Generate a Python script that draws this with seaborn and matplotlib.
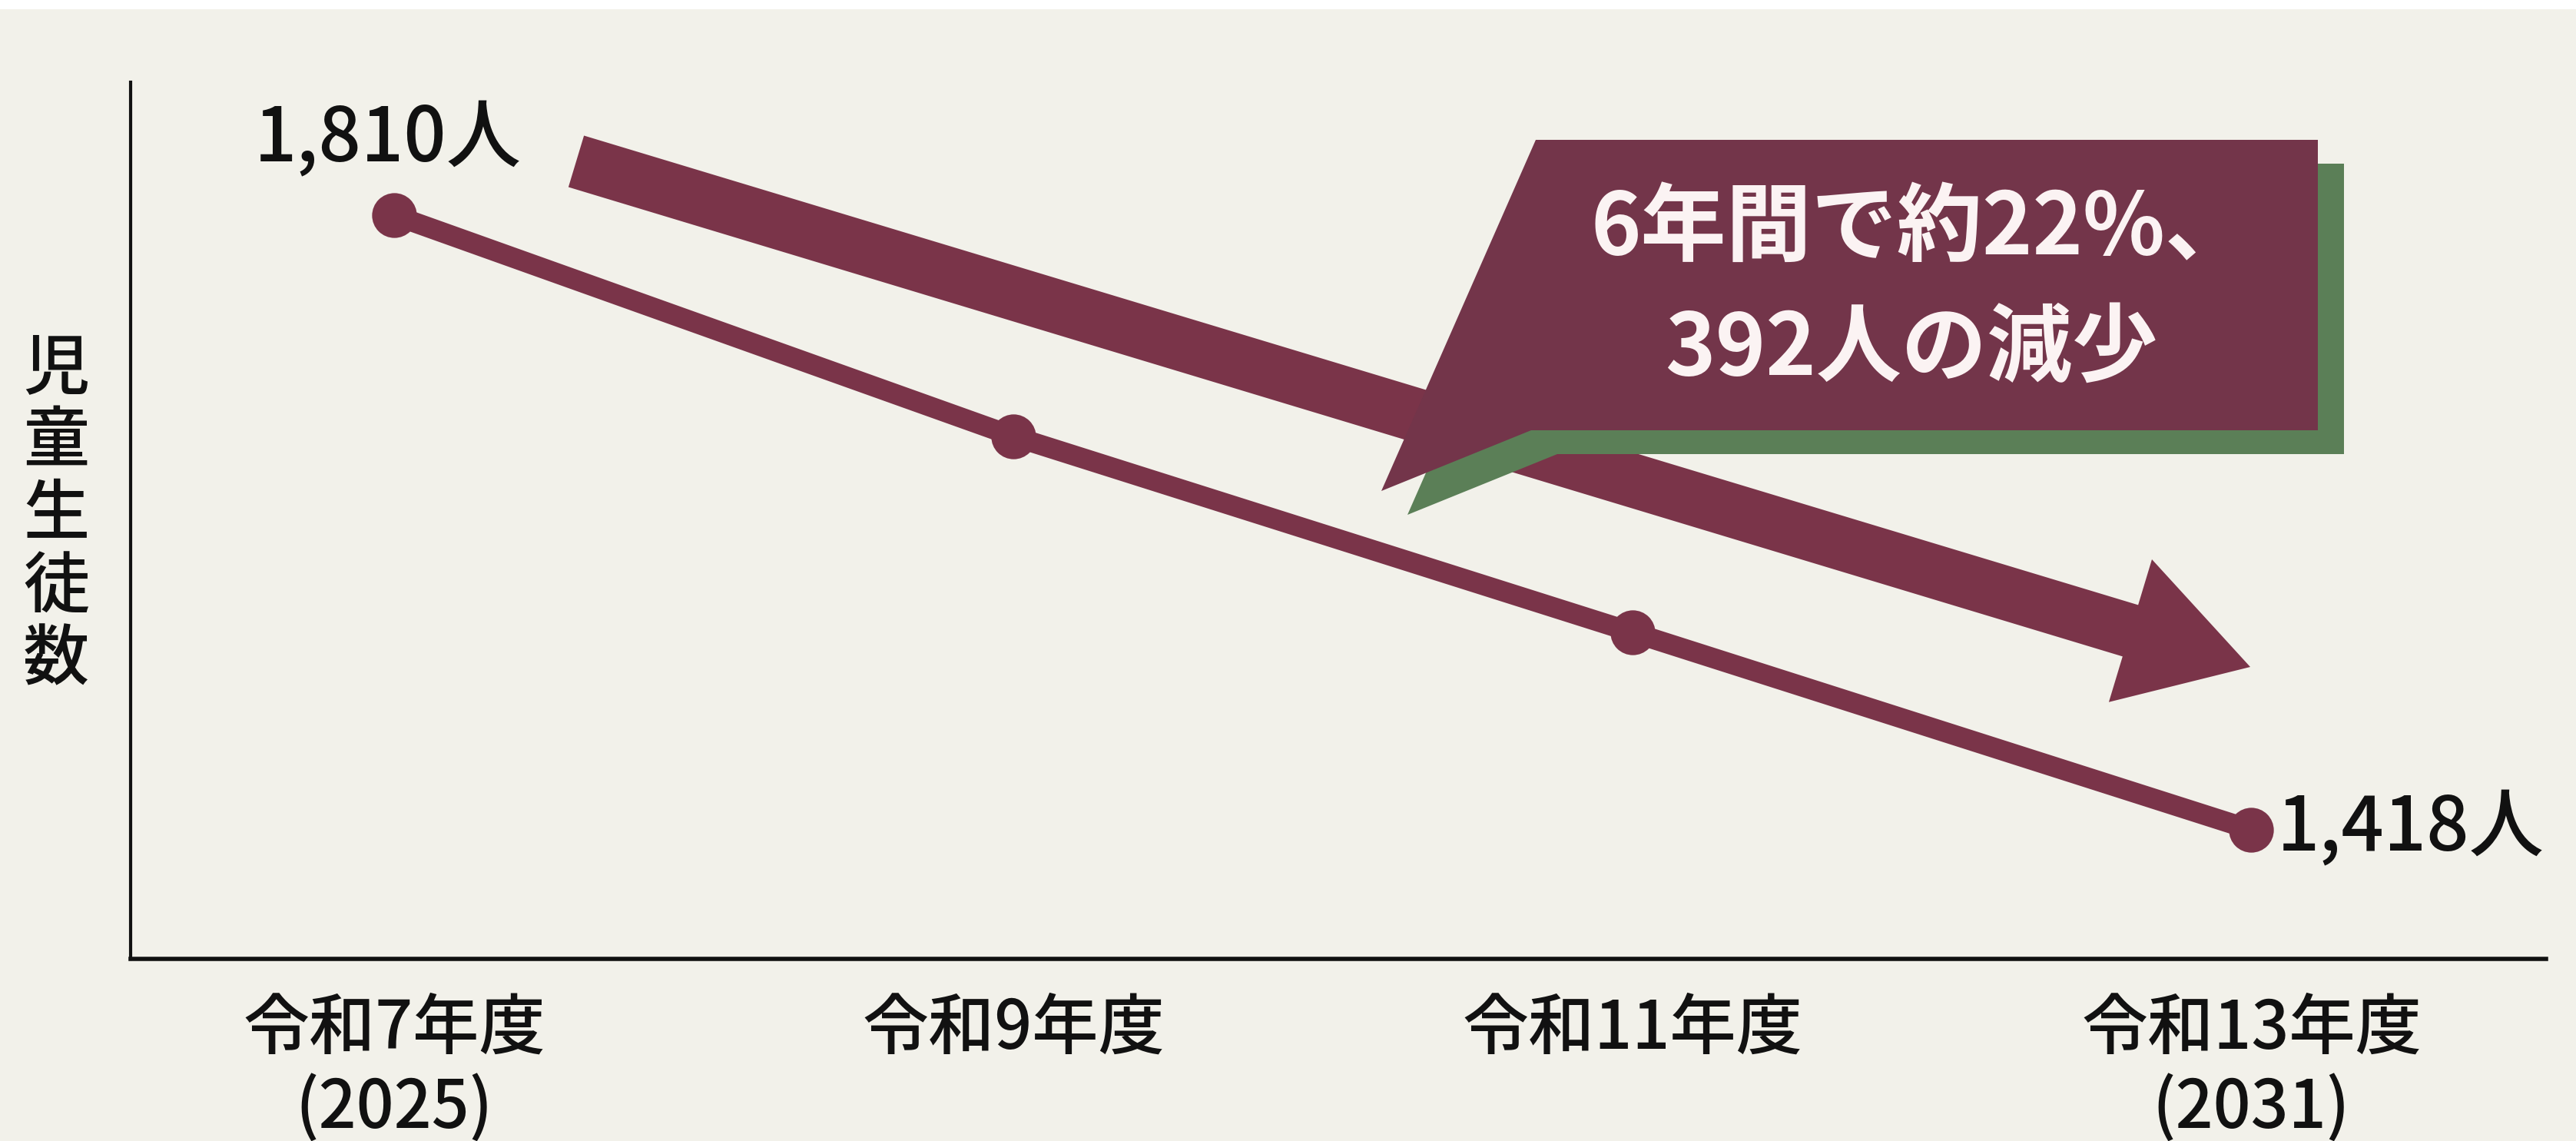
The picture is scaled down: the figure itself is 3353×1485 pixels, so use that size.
import matplotlib
matplotlib.use("Agg")
import matplotlib.pyplot as plt
from matplotlib.patches import Polygon, Rectangle
import numpy as np
import pandas as pd
import seaborn as sns

# ---- data ----
fiscal_years = ["令和7年度\n(2025)", "令和9年度", "令和11年度", "令和13年度\n(2031)"]
students = [1810, 1669, 1544, 1418]
start_label = "1,810人"
end_label = "1,418人"
y_title = "児童生徒数"
callout_lines = ["6年間で約22%、", "392人の減少"]

# ---- style ----
W, H, DPI = 3353, 1485, 200
BG = "#F2F1EA"
LINE = "#7A3449"
BOX = "#73354A"
SHADOW = "#5B7F57"
INK = "#111111"
WT = 500

sns.set_theme(style="white")
plt.rcParams["font.family"] = ["Noto Sans CJK JP", "DejaVu Sans"]

fig = plt.figure(figsize=(W / DPI, H / DPI), dpi=DPI, facecolor=BG)


def px(x, y):
    return (x / W, 1 - y / H)


# white strip at top
fig.add_artist(Rectangle(px(0, 12), 1, 12 / H, transform=fig.transFigure,
                         facecolor="white", edgecolor="none", zorder=0))

ax = fig.add_axes([170 / W, 1 - 1248 / H, (3314 - 170) / W, (1248 - 107) / H])
ax.set_facecolor(BG)

df = pd.DataFrame({"pos": np.arange(len(students)), "students": students})
sns.lineplot(data=df, x="pos", y="students", ax=ax, color=LINE, linewidth=9.5,
             marker="o", markersize=21, markeredgewidth=0, zorder=3)

ax.set_xlim(-0.426, 3.476)
ax.set_ylim(1335.7, 1894.8)

for s in ["top", "right"]:
    ax.spines[s].set_visible(False)
ax.spines["left"].set_linewidth(1.5)
ax.spines["left"].set_color(INK)
ax.spines["bottom"].set_linewidth(2.0)
ax.spines["bottom"].set_color(INK)

ax.set_yticks([])
ax.set_xticks(df["pos"])
ax.set_xticklabels(fiscal_years, fontsize=31, color=INK, linespacing=1.2,
                   fontweight=WT)
ax.tick_params(axis="x", length=0, pad=17)
ax.set_xlabel("")

ax.set_ylabel("\n".join(y_title), rotation=0, fontsize=31, color=INK,
              linespacing=1.1, ha="center", va="center", fontweight=WT)
ax.yaxis.set_label_coords((73 - 170) / (3314 - 170), (1248 - 670) / (1248 - 107))

# value labels
ax.annotate(start_label, xy=(df["pos"].iloc[0], students[0]), xytext=(-3, 35),
            textcoords="offset points", ha="center", va="center",
            fontsize=35, color=INK, fontweight=WT)
ax.annotate(end_label, xy=(df["pos"].iloc[-1], students[-1]), xytext=(12, 0),
            textcoords="offset points", ha="left", va="center",
            fontsize=35, color=INK, fontweight=WT)

# big trend arrow (decoration, in figure pixels)
S = np.array([750.0, 210.0])
T = np.array([2929.0, 868.0])
d = (T - S) / np.linalg.norm(T - S)
n = np.array([-d[1], d[0]])
B = T - d * 163
hw, hh = 35, 97
arrow_pts = [S + n * hw, B + n * hw, B + n * hh, T, B - n * hh, B - n * hw, S - n * hw]
fig.add_artist(Polygon([px(*p) for p in arrow_pts], closed=True,
                       transform=fig.transFigure, facecolor=LINE,
                       edgecolor="none", zorder=2))

# callout with green shadow
box_pts = [(1999, 182), (3017, 182), (3017, 560), (1993, 560), (1798, 639)]
dx, dy = 34, 31
fig.add_artist(Polygon([px(x + dx, y + dy) for x, y in box_pts], closed=True,
                       transform=fig.transFigure, facecolor=SHADOW,
                       edgecolor="none", zorder=3))
fig.add_artist(Polygon([px(x, y) for x, y in box_pts], closed=True,
                       transform=fig.transFigure, facecolor=BOX,
                       edgecolor="none", zorder=4))
fig.text(*px(2500, 299), callout_lines[0], ha="center", va="center",
         fontsize=40, fontweight="bold", color="#FBF3F3", zorder=5)
fig.text(*px(2488, 455), callout_lines[1], ha="center", va="center",
         fontsize=40, fontweight="bold", color="#FBF3F3", zorder=5)

fig.savefig("out.png", dpi=DPI, facecolor=BG)
